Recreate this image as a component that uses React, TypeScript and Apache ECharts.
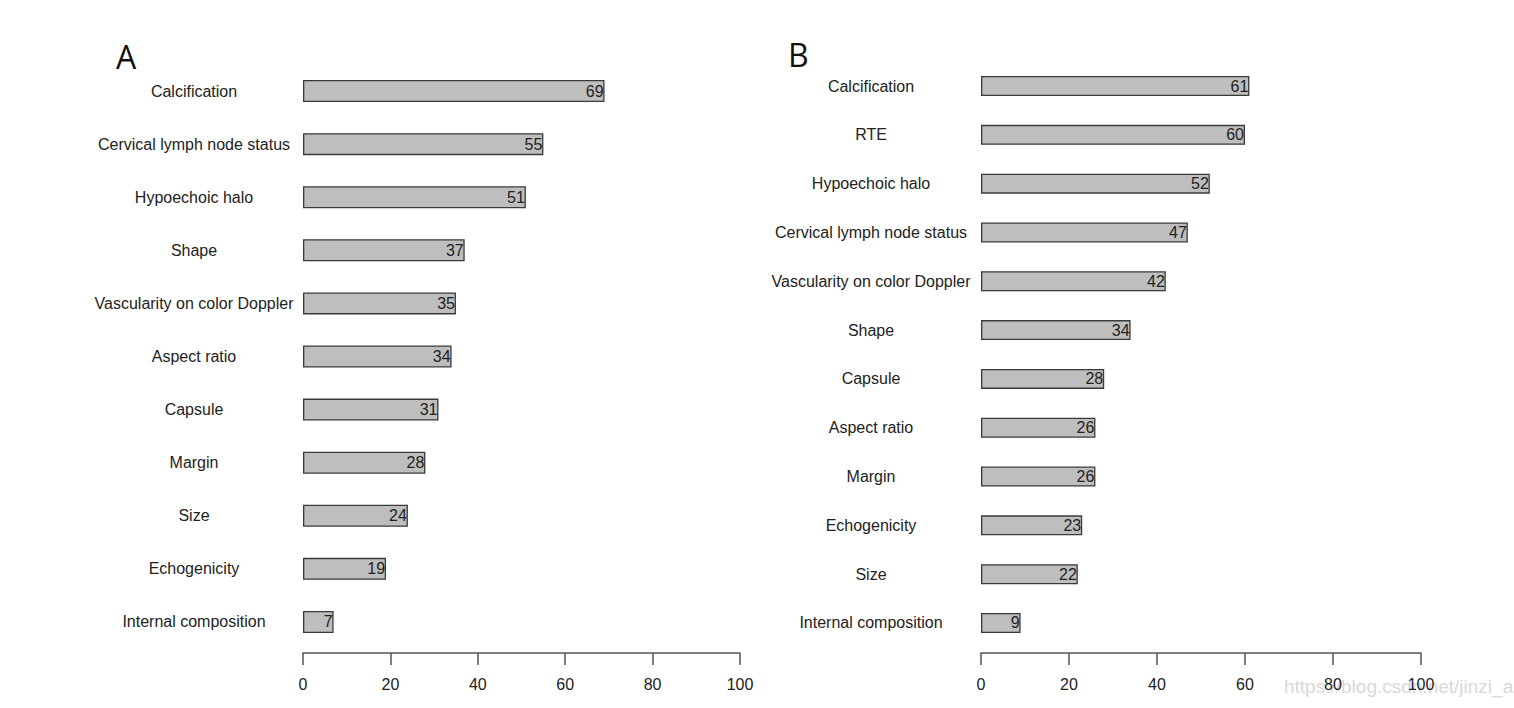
import React, { useEffect, useRef } from "react";
import * as echarts from "echarts";

const categoriesA = [
  "Calcification",
  "Cervical lymph node status",
  "Hypoechoic halo",
  "Shape",
  "Vascularity on color Doppler",
  "Aspect ratio",
  "Capsule",
  "Margin",
  "Size",
  "Echogenicity",
  "Internal composition",
];
const valuesA = [69, 55, 51, 37, 35, 34, 31, 28, 24, 19, 7];

const categoriesB = [
  "Calcification",
  "RTE",
  "Hypoechoic halo",
  "Cervical lymph node status",
  "Vascularity on color Doppler",
  "Shape",
  "Capsule",
  "Aspect ratio",
  "Margin",
  "Echogenicity",
  "Size",
  "Internal composition",
];
const valuesB = [61, 60, 52, 47, 42, 34, 28, 26, 26, 23, 22, 9];

const xTicks = [0, 20, 40, 60, 80, 100];
const panelLetters = ["A", "B"];
const watermark = "https://blog.csdn.net/jinzi_a";

const FONT = "'Liberation Sans', Arial, Helvetica, sans-serif";

export default function App() {
  const ref = useRef<HTMLDivElement>(null);
  useEffect(() => {
    if (!ref.current) return;
    const chart = echarts.init(ref.current, null, { renderer: "svg" });
    const grids = [
      { left: 303, width: 437, top: 64.5, height: 584, offset: 4.5 },
      { left: 981, width: 440, top: 61.6, height: 585.8, offset: 5.6 },
    ];
    const cats = [categoriesA, categoriesB];
    const vals = [valuesA, valuesB];
    const barW = [22, 20];
    const option: any = {
      animation: false,
      backgroundColor: "#ffffff",
      textStyle: { fontFamily: FONT },
      grid: grids.map((g) => ({
        left: g.left,
        width: g.width,
        top: g.top,
        height: g.height,
        containLabel: false,
      })),
      xAxis: grids.map((g, i) => ({
        type: "value",
        gridIndex: i,
        min: xTicks[0],
        max: xTicks[xTicks.length - 1],
        interval: xTicks[1] - xTicks[0],
        offset: g.offset,
        axisLine: { show: true, lineStyle: { color: "#555", width: 1.5 } },
        axisTick: { show: true, inside: false, length: 12, lineStyle: { color: "#555", width: 1.5 } },
        axisLabel: { show: true, margin: 23, color: "#222", fontSize: 16, fontFamily: FONT },
        splitLine: { show: false },
      })),
      yAxis: grids.map((g, i) => ({
        type: "category",
        gridIndex: i,
        inverse: true,
        data: cats[i],
        axisLine: { show: false },
        axisTick: { show: false },
        axisLabel: {
          show: true,
          margin: i === 0 ? 109 : 110,
          align: "center",
          color: "#222",
          fontSize: 16,
          fontFamily: FONT,
        },
        splitLine: { show: false },
      })),
      series: vals.map((v, i) => ({
        type: "bar",
        xAxisIndex: i,
        yAxisIndex: i,
        data: v,
        barWidth: barW[i],
        itemStyle: { color: "#bebebe", borderColor: "#3a3a3a", borderWidth: 1.3 },
        label: {
          show: true,
          position: "insideRight",
          distance: 1,
          color: "#222",
          fontSize: 16,
          fontFamily: FONT,
        },
      })),
      graphic: [
        {
          type: "text",
          left: 116,
          top: 40,
          style: { text: panelLetters[0], fontSize: 32, fill: "#111", fontFamily: "'Open Sans', 'Noto Sans', sans-serif" },
        },
        {
          type: "text",
          left: 788,
          top: 38,
          style: { text: panelLetters[1], fontSize: 32, fill: "#111", fontFamily: "'Open Sans', 'Noto Sans', sans-serif" },
        },
        {
          type: "text",
          left: 1284,
          top: 677,
          style: { text: watermark, fontSize: 19, fill: "#d8d8d8", fontFamily: FONT },
        },
      ],
    };
    chart.setOption(option);
    return () => chart.dispose();
  }, []);
  return (
    <div
      ref={ref}
      style={{ position: "fixed", left: 0, top: 0, width: 1514, height: 708, background: "#fff" }}
    />
  );
}
